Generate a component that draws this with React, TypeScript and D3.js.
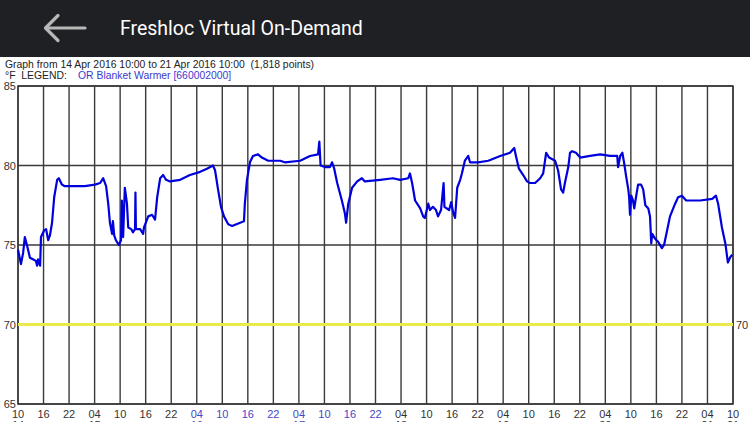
import React from "react";
import * as d3 from "d3";

const hours: number[] = [
  0, 0.7, 1.2, 1.6, 2.1, 2.8, 3.5, 4.2, 4.5, 4.7, 5.2, 5.4, 6.1, 6.6, 7.1, 7.5, 8.0, 8.5, 9.2, 9.6,
  10.3, 11.0, 13.4, 15.7, 18.1, 19.3, 20.0, 20.7, 21.2, 21.6, 22.1, 22.3, 22.6, 23.0, 23.7, 24.2, 24.4, 24.7, 25.1, 25.6,
  25.9, 26.6, 27.0, 27.5, 27.6, 27.7, 28.7, 29.4, 29.6, 30.6, 31.5, 32.2, 32.7, 33.4, 34.1, 34.8, 35.7, 38.1, 40.4, 42.8,
  44.4, 45.8, 46.3, 47.0, 47.7, 48.4, 49.4, 50.3, 52.2, 53.1, 53.3, 53.8, 54.5, 55.2, 56.4, 57.3, 58.8, 61.6, 62.7, 66.3,
  68.6, 70.5, 70.8, 71.1, 72.1, 73.3, 73.8, 74.3, 75.0, 76.1, 76.8, 77.1, 77.6, 78.5, 79.7, 80.8, 81.5, 85.1, 88.1, 89.8,
  91.7, 92.1, 92.6, 93.3, 94.5, 95.2, 95.6, 96.4, 96.8, 97.5, 98.2, 98.7, 99.4, 100.0, 100.2, 101.3, 101.8, 102.2, 102.7, 103.2,
  103.9, 104.3, 105.0, 105.8, 106.2, 108.1, 110.5, 113.3, 115.6, 116.6, 117.0, 117.7, 118.7, 119.6, 120.3, 121.5, 122.7, 123.4, 124.1, 124.8,
  126.2, 126.9, 127.6, 128.1, 128.5, 129.3, 129.7, 130.2, 131.1, 132.1, 134.4, 136.8, 139.1, 140.8, 141.0, 141.5, 142.0, 142.4, 142.9, 143.4,
  143.6, 143.8, 144.1, 144.5, 144.8, 145.2, 145.7, 146.4, 146.9, 147.4, 148.1, 148.5, 148.8, 149.0, 149.7, 150.4, 151.3, 151.8, 152.5, 153.2,
  154.4, 155.1, 156.0, 157.0, 160.3, 163.1, 164.0, 164.5, 165.4, 166.2, 166.8, 167.3, 167.8,
];

const temps: number[] = [
  74.7, 73.8, 74.5, 75.5, 75.0, 74.2, 74.1, 74.0, 73.7, 74.1, 73.7, 75.5, 75.9, 76.0, 75.3, 75.6, 76.4, 78.0, 79.1, 79.2,
  78.8, 78.7, 78.7, 78.7, 78.8, 78.9, 79.2, 78.7, 77.6, 76.4, 75.7, 76.5, 75.6, 75.3, 75.0, 75.3, 77.8, 75.5, 78.6, 77.6,
  76.1, 76.0, 75.8, 76.0, 78.3, 76.0, 76.0, 75.7, 76.1, 76.8, 76.9, 76.6, 78.0, 79.2, 79.4, 79.1, 79.0, 79.1, 79.4, 79.6,
  79.8, 80.0, 79.7, 78.5, 77.4, 76.8, 76.3, 76.2, 76.4, 76.5, 77.6, 79.1, 80.2, 80.6, 80.7, 80.5, 80.3, 80.3, 80.2, 80.3,
  80.6, 80.7, 81.5, 80.0, 79.9, 79.9, 80.2, 79.8, 78.9, 77.8, 77.0, 76.4, 77.6, 78.6, 79.0, 79.2, 79.0, 79.1, 79.2, 79.1,
  79.2, 79.5, 78.9, 77.8, 77.3, 76.8, 76.7, 77.6, 77.2, 77.4, 77.2, 76.8, 77.2, 78.9, 77.4, 77.2, 77.7, 77.1, 76.7, 78.6,
  79.1, 79.5, 80.3, 80.6, 80.2, 80.2, 80.3, 80.6, 80.8, 81.1, 80.6, 79.8, 79.4, 79.0, 78.9, 78.9, 79.2, 79.5, 80.8, 80.5,
  80.3, 79.7, 78.5, 78.3, 78.9, 79.9, 80.8, 80.9, 80.8, 80.5, 80.6, 80.7, 80.6, 80.6, 79.9, 80.6, 80.8, 80.2, 79.3, 78.5,
  78.0, 76.9, 78.1, 77.8, 77.3, 78.0, 78.8, 78.8, 78.5, 77.5, 77.3, 76.8, 75.1, 75.7, 75.4, 75.2, 74.8, 75.0, 75.9, 76.8,
  77.6, 78.0, 78.1, 77.8, 77.8, 77.9, 78.1, 77.6, 76.1, 75.1, 73.9, 74.2, 74.4,
];

const yTicks: number[] = [65, 70, 75, 80, 85];
const limitValue = 70;
const startHour = 10;
const startDay = 14;
const weekendDays: number[] = [16, 17];
const headerTitle = "Freshloc Virtual On-Demand";
const graphTitle = "Graph from 14 Apr 2016 10:00 to 21 Apr 2016 10:00  (1,818 points)";
const unitLabel = "°F  LEGEND:";
const seriesName = "OR Blanket Warmer [660002000]";

const W = 750;
const H = 422;
const L = 18, R = 733, T = 86, B = 404;

export default function App() {
  const x = d3.scaleLinear().domain([0, 168]).range([L, R]);
  const y = d3.scaleLinear().domain([65, 85]).range([B, T]);
  const xTicks = d3.range(0, 169, 6);
  const pts = hours.map((h, i) => [h, temps[i]] as [number, number]);
  const line = d3
    .line<[number, number]>()
    .x((d) => x(d[0]))
    .y((d) => y(d[1]));
  const font = "Liberation Sans, Arial, sans-serif";

  return (
    <svg
      width={W}
      height={H}
      style={{ position: "absolute", left: 0, top: 0, display: "block" }}
    >
      <rect x={0} y={0} width={W} height={H} fill="#ffffff" />
      <rect x={0} y={0} width={W} height={57} fill="#1f2024" />
      <g stroke="#b8b8b8" strokeWidth={3.2} strokeLinecap="round" strokeLinejoin="round" fill="none">
        <line x1={46} y1={28} x2={85} y2={28} />
        <polyline points="58,15.5 45.5,28 58,40.5" />
      </g>
      <text x={120} y={35} fill="#ffffff" fontSize={19.5} fontFamily="Roboto, 'Noto Sans', sans-serif">
        {headerTitle}
      </text>

      <text x={5} y={68} fontSize={10.4} fontFamily={font} fill="#222" style={{ whiteSpace: "pre" }}>
        {graphTitle}
      </text>
      <text x={5} y={79} fontSize={10.4} fontFamily={font} fill="#222" style={{ whiteSpace: "pre" }}>
        {unitLabel}
      </text>
      <text x={78} y={79} fontSize={10.4} fontFamily={font} fill="#3a3acc">
        {seriesName}
      </text>

      <g stroke="#3a3a3a" strokeWidth={1.4}>
        {xTicks.map((t) => (
          <line key={t} x1={x(t)} x2={x(t)} y1={T} y2={B} />
        ))}
        {yTicks
          .filter((v) => v !== limitValue)
          .map((v) => (
            <line key={v} x1={L} x2={R} y1={y(v)} y2={y(v)} />
          ))}
      </g>
      <rect x={L} y={T} width={R - L} height={B - T} fill="none" stroke="#3a3a3a" strokeWidth={1.5} />
      <line x1={L} x2={R} y1={y(limitValue)} y2={y(limitValue)} stroke="#eaea4a" strokeWidth={3} />

      <path d={line(pts) || ""} fill="none" stroke="#0000dd" strokeWidth={2.2} strokeLinejoin="round" />

      {yTicks.map((v) => (
        <text key={v} x={16} y={y(v) + 4} textAnchor="end" fontSize={11} fontFamily={font} fill="#333">
          {v}
        </text>
      ))}
      <text x={736} y={y(limitValue) + 4} fontSize={11} fontFamily={font} fill="#333">
        {limitValue}
      </text>

      {xTicks.map((t) => {
        const total = startHour + t;
        const hr = total % 24;
        const day = startDay + Math.floor(total / 24);
        const color = weekendDays.includes(day) ? "#4646c8" : "#333";
        const showDay = t === 0 || t === 168 || hr === 4;
        return (
          <g key={t} fontSize={11} fontFamily={font} fill={color} textAnchor="middle">
            <text x={x(t)} y={418}>{String(hr).padStart(2, "0")}</text>
            {showDay && (
              <text x={x(t)} y={429}>{day}</text>
            )}
          </g>
        );
      })}
    </svg>
  );
}
